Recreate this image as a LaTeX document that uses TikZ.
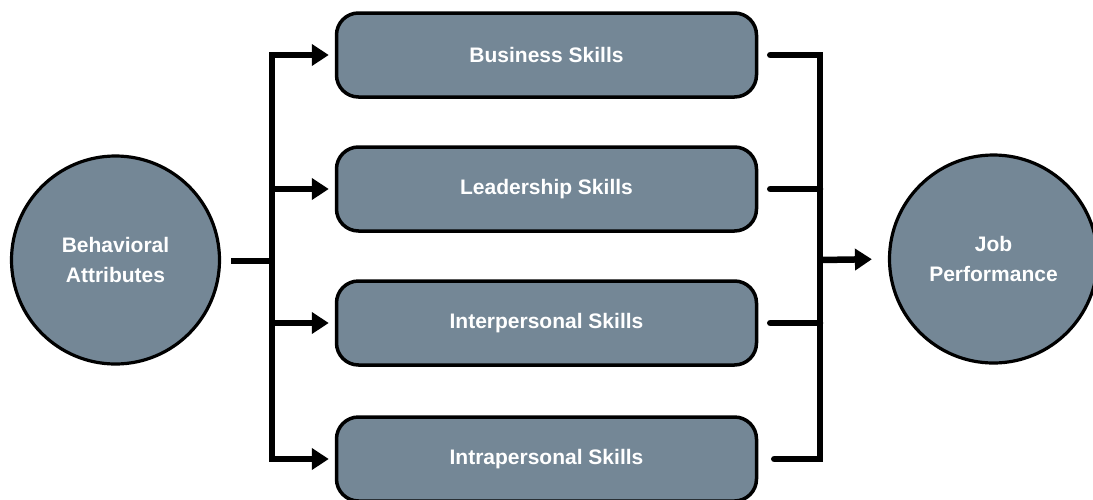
\documentclass[tikz,border=0pt]{standalone}
\usepackage{fontspec}
\setmainfont{Liberation Sans}
\usetikzlibrary{arrows.meta}
\definecolor{slate}{RGB}{116,135,150}
\tikzset{
  skillbox/.style={draw=black, line width=3.5pt, fill=slate, rounded corners=22pt,
    minimum width=420pt, minimum height=84pt, inner sep=0pt,
    text=white, font=\fontsize{21}{30}\selectfont\bfseries},
  bigcirc/.style={draw=black, line width=3.2pt, fill=slate, circle,
    minimum size=208pt, inner sep=0pt, align=center,
    text=white, font=\fontsize{21}{30}\selectfont\bfseries},
  ln/.style={draw=black, line width=6.5pt},
  arr/.style={ln, -{Triangle[length=17pt,width=21pt]}, shorten >=6pt}
}
\begin{document}
\begin{tikzpicture}[x=1pt,y=-1pt]
\useasboundingbox (0,0) rectangle (1093,499);
\node[bigcirc] (bh) at (115.5,260) {Behavioral\\Attributes};
\node[bigcirc] (jp) at (993.5,259) {Job\\Performance};
\node[skillbox] (b1) at (546.5,55) {Business Skills};
\node[skillbox] (b2) at (546.5,189) {Leadership Skills};
\node[skillbox] (b3) at (546.5,323) {Interpersonal Skills};
\node[skillbox] (b4) at (546.5,459) {Intrapersonal Skills};
\coordinate (L) at (272,261);
\coordinate (R) at (820,260);
% left side
\draw[ln] ([xshift=10pt]bh.east |- L) -- (L);
\draw[arr] (L |- b4.west) -- (L |- b1.west) -- (b1.west);
\draw[arr] (L |- b1.west) -- (L |- b4.west) -- (b4.west);
\draw[arr] (L |- b2.west) -- (b2.west);
\draw[arr] (L |- b3.west) -- (b3.west);
% right side
\draw[ln, line cap=round] ([xshift=12pt]b1.east) -- (R |- b1.east) -- (R |- b4.east) -- ([xshift=16pt]b4.east);
\draw[ln, line cap=round] ([xshift=12pt]b2.east) -- (R |- b2.east);
\draw[ln, line cap=round] ([xshift=12pt]b3.east) -- (R |- b3.east);
\draw[arr, shorten >=16pt] (R) -- (jp.west);
\end{tikzpicture}
\end{document}
